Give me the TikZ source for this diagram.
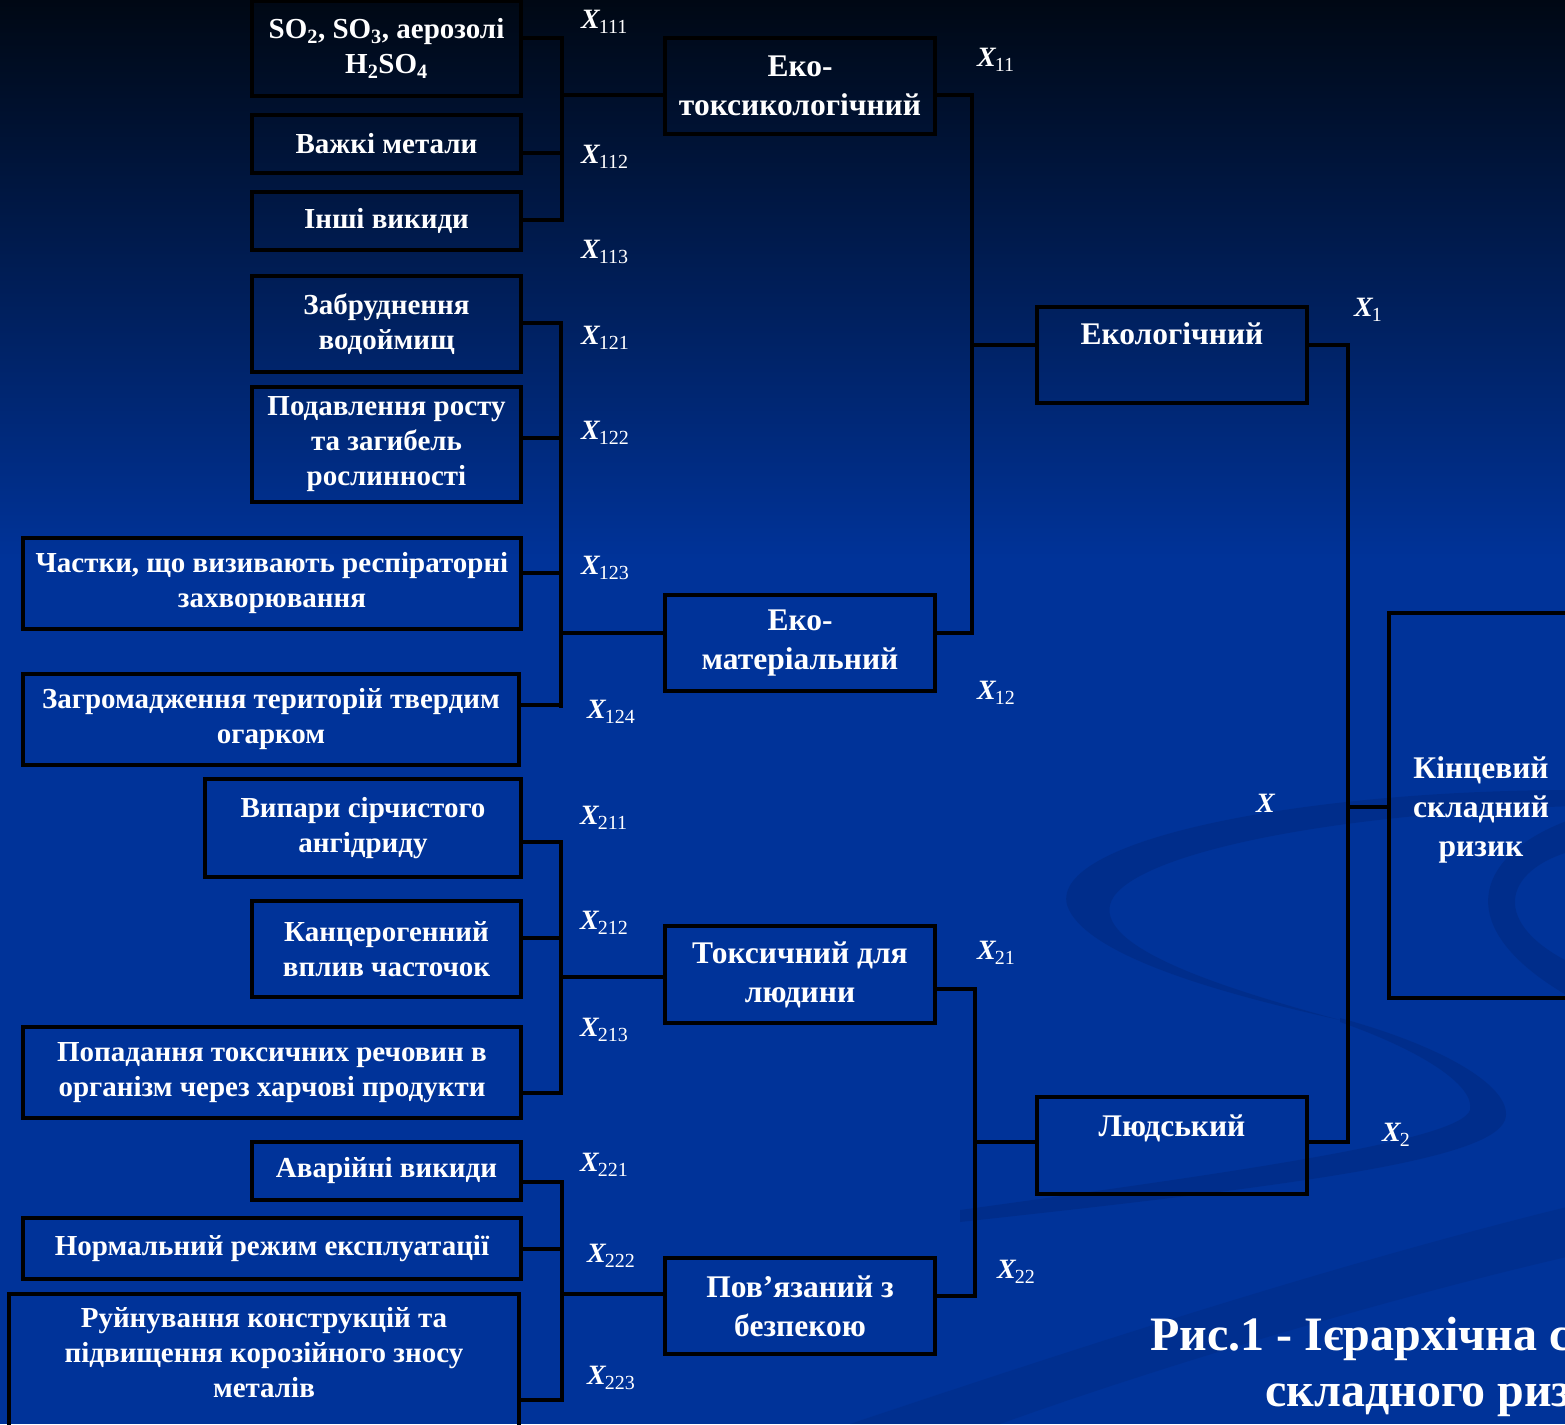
\documentclass[tikz,border=0pt]{standalone}
\usepackage{fontspec}
\setmainfont{Liberation Serif}
\usetikzlibrary{calc}
\definecolor{bgtop}{RGB}{0,8,20}
\definecolor{bgblue}{RGB}{0,51,153}
\definecolor{swoosh}{RGB}{0,36,115}
\newcommand{\xlab}[1]{{\fontsize{28}{28}\selectfont\bfseries\itshape X}\kern-1pt\raisebox{-5pt}{\fontsize{20}{20}\selectfont #1}}
\tikzset{
  box/.style={draw=black, line width=3.5pt, text=white, align=center,
    font=\fontsize{29}{35}\selectfont\bfseries, inner sep=0pt},
  midbox/.style={box, font=\fontsize{31.5}{39}\selectfont\bfseries, minimum width=270pt, minimum height=96pt},
  lbl/.style={text=white, align=center, font=\fontsize{29}{35}\selectfont\bfseries, inner sep=0pt},
  xl/.style={text=white, inner sep=0pt, anchor=west},
  conn/.style={draw=black, line width=3.5pt, line join=miter},
  band/.style={fill=swoosh, opacity=0.35},
  captxt/.style={text=white, inner sep=0pt, anchor=base west, font=\fontsize{48}{56}\selectfont\bfseries}
}
\begin{document}
\begin{tikzpicture}[x=1pt,y=-1pt]
\useasboundingbox (0,0) rectangle (1565,1424);
\clip (0,0) rectangle (1565,1424);
% background
\fill[bgblue] (0,0) rectangle (1565,1424);
\shade[top color=bgtop, bottom color=bgblue] (0,0) rectangle (1565,560);
% decorative swooshes
\fill[band] (1575,790) .. controls (1300,790) and (1050,840) .. (1067,905)
  .. controls (1085,960) and (1250,1000) .. (1340,1020)
  .. controls (1230,990) and (1100,950) .. (1110,905)
  .. controls (1120,860) and (1300,815) .. (1575,806) -- cycle;
\fill[band] (1340,1018) .. controls (1450,1048) and (1515,1090) .. (1505,1120)
  .. controls (1490,1160) and (1300,1185) .. (960,1222)
  -- (960,1210) .. controls (1250,1170) and (1460,1140) .. (1470,1110)
  .. controls (1475,1085) and (1420,1050) .. (1340,1022) -- cycle;
\fill[band] (1575,818) .. controls (1480,850) and (1440,925) .. (1575,1000)
  -- (1575,965) .. controls (1490,925) and (1500,870) .. (1575,850) -- cycle;
\fill[band, opacity=0.25] (850,1424) .. controls (1100,1340) and (1350,1260) .. (1575,1205)
  -- (1575,1255) .. controls (1380,1300) and (1150,1370) .. (1000,1424) -- cycle;

% level 3 boxes
\node[box, minimum width=269pt, minimum height=95pt] (b111) at (386.5,48.5)
  {SO\textsubscript{2}, SO\textsubscript{3}, аерозолі\\H\textsubscript{2}SO\textsubscript{4}};
\node[box, minimum width=269pt, minimum height=58pt] (b112) at (386.5,144) {Важкі метали};
\node[box, minimum width=269pt, minimum height=58pt] (b113) at (386.5,221) {Інші викиди};
\node[box, minimum width=269pt, minimum height=96pt] (b121) at (386.5,324) {Забруднення\\водоймищ};
\node[box, minimum width=269pt, minimum height=115pt] (b122) at (386.5,444.5) {Подавлення росту\\та загибель\\рослинності};
\node[box, minimum width=498pt, minimum height=91pt] (b123) at (272,583.5) {Частки, що визивають респіраторні\\захворювання};
\node[box, minimum width=496pt, minimum height=91pt] (b124) at (271,719.5) {Загромадження територій твердим\\огарком};
\node[box, minimum width=316pt, minimum height=98pt] (b211) at (363,828) {Випари сірчистого\\ангідриду};
\node[box, minimum width=269pt, minimum height=96pt] (b212) at (386.5,949) {Канцерогенний\\вплив часточок};
\node[box, minimum width=498pt, minimum height=91pt] (b213) at (272,1072.5) {Попадання токсичних речовин в\\організм через харчові продукти};
\node[box, minimum width=269pt, minimum height=58pt] (b221) at (386.5,1171) {Аварійні викиди};
\node[box, minimum width=498pt, minimum height=61pt] (b222) at (272,1248.5) {Нормальний режим експлуатації};
\node[box, minimum width=510pt, minimum height=136pt,
  label={[lbl, anchor=north, yshift=-15pt]north:Руйнування конструкцій та\\підвищення корозійного зносу\\металів}] (b223) at (264,1362) {};

% level 2 boxes
\node[midbox] (e11) at (800,86) {Еко-\\токсикологічний};
\node[midbox] (e12) at (800,643) {Еко-\\матеріальний};
\node[midbox, minimum height=97pt] (e21) at (800,974.5) {Токсичний для\\людини};
\node[midbox] (e22) at (800,1306) {Пов’язаний з\\безпекою};

% level 1 boxes
\node[midbox, label={[lbl, font=\fontsize{31.5}{39}\selectfont\bfseries, anchor=north, yshift=-17pt]north:Екологічний}] (e1) at (1172,355) {};
\node[midbox, minimum height=97pt, label={[lbl, font=\fontsize{31.5}{39}\selectfont\bfseries, anchor=north, yshift=-19pt]north:Людський}] (e2) at (1172,1145.5) {};

% final box
\node[box, minimum width=184pt, minimum height=385pt,
  label={[lbl, font=\fontsize{31.5}{39}\selectfont\bfseries, anchor=center, yshift=-4pt]center:Кінцевий\\складний\\ризик}] (fin) at (1481,805.5) {};

% connector points
\coordinate (bus11) at (562,0);
\coordinate (bus12) at (561,0);
\coordinate (bus21) at (561,0);
\coordinate (bus22) at (562,0);
\coordinate (bus1) at (972,0);
\coordinate (bus2) at (975,0);
\coordinate (busf) at (1348,0);

\coordinate (a111) at ([yshift=10.5pt]b111.east);
\coordinate (a112) at ([yshift=-9pt]b112.east);
\coordinate (a113) at ([yshift=1pt]b113.east);
\coordinate (w11) at ([yshift=-9pt]e11.west);
\coordinate (a121) at ([yshift=1pt]b121.east);
\coordinate (a122) at ([yshift=6.5pt]b122.east);
\coordinate (a123) at ([yshift=10.5pt]b123.east);
\coordinate (a124) at ([yshift=14.5pt]b124.east);
\coordinate (w12) at ([yshift=10pt]e12.west);
\coordinate (a211) at ([yshift=-14pt]b211.east);
\coordinate (a212) at ([yshift=11pt]b212.east);
\coordinate (a213) at ([yshift=-20.5pt]b213.east);
\coordinate (w21) at ([yshift=-2.5pt]e21.west);
\coordinate (a221) at ([yshift=-11pt]b221.east);
\coordinate (a222) at ([yshift=-0.5pt]b222.east);
\coordinate (a223) at ([yshift=-38pt]b223.east);
\coordinate (w22) at ([yshift=12pt]e22.west);
\coordinate (o11) at ([yshift=-9pt]e11.east);
\coordinate (o12) at ([yshift=10pt]e12.east);
\coordinate (w1) at ([yshift=10pt]e1.west);
\coordinate (o21) at ([yshift=-14.5pt]e21.east);
\coordinate (o22) at ([yshift=10pt]e22.east);
\coordinate (w2) at ([yshift=3.5pt]e2.west);
\coordinate (p1) at ([yshift=10pt]e1.east);
\coordinate (p2) at ([yshift=3.5pt]e2.east);
\coordinate (wf) at ([yshift=-1.5pt]fin.west);

% connectors
\draw[conn] (a111) -- (a111 -| bus11) -- (a113 -| bus11) -- (a113);
\draw[conn] (a112) -- (a112 -| bus11);
\draw[conn] (w11) -- (w11 -| bus11);

\draw[conn] (a121) -- (a121 -| bus12) -- ([yshift=-3pt]a124 -| bus12);
\draw[conn] (a124) -- (a124 -| bus12);
\draw[conn] (a122) -- (a122 -| bus12);
\draw[conn] (a123) -- (a123 -| bus12);
\draw[conn] (w12) -- (w12 -| bus12);

\draw[conn] (o11) -- (o11 -| bus1) -- (o12 -| bus1) -- (o12);
\draw[conn] (w1) -- (w1 -| bus1);

\draw[conn] (a211) -- (a211 -| bus21) -- (a213 -| bus21) -- (a213);
\draw[conn] (a212) -- (a212 -| bus21);
\draw[conn] (w21) -- (w21 -| bus21);

\draw[conn] (a221) -- (a221 -| bus22) -- (a223 -| bus22) -- (a223);
\draw[conn] (a222) -- (a222 -| bus22);
\draw[conn] (w22) -- (w22 -| bus22);

\draw[conn] (o21) -- (o21 -| bus2) -- (o22 -| bus2) -- (o22);
\draw[conn] (w2) -- (w2 -| bus2);

\draw[conn] (p1) -- (p1 -| busf) -- (p2 -| busf) -- (p2);
\draw[conn] (wf) -- (wf -| busf);

% labels
\node[xl] (l111) at (581,22) {\xlab{111}};
\node[xl] (l112) at (581,157) {\xlab{112}};
\node[xl] (l113) at (581,252) {\xlab{113}};
\node[xl] (l121) at (581,338) {\xlab{121}};
\node[xl] (l122) at (581,433) {\xlab{122}};
\node[xl] (l123) at (581,568) {\xlab{123}};
\node[xl] (l124) at (587,712) {\xlab{124}};
\node[xl] (l211) at (580,818) {\xlab{211}};
\node[xl] (l212) at (580,923) {\xlab{212}};
\node[xl] (l213) at (580,1030) {\xlab{213}};
\node[xl] (l221) at (580,1165) {\xlab{221}};
\node[xl] (l222) at (587,1256) {\xlab{222}};
\node[xl] (l223) at (587,1378) {\xlab{223}};
\node[xl] (l11) at (977,60) {\xlab{11}};
\node[xl] (l12) at (977,693) {\xlab{12}};
\node[xl] (l21) at (977,953) {\xlab{21}};
\node[xl] (l22) at (997,1272) {\xlab{22}};
\node[xl] (l1) at (1354,310) {\xlab{1}};
\node[xl] (l0) at (1256,806) {\xlab{}};
\node[xl] (l2) at (1382,1135) {\xlab{2}};

% caption (cut off by the picture edge, as in the reference)
\node[captxt] (cap1) at (1150,1350) {Рис.1 - Ієрархічна с};
\node[captxt] (cap2) at (1265,1406) {складного риз};
\end{tikzpicture}
\end{document}
